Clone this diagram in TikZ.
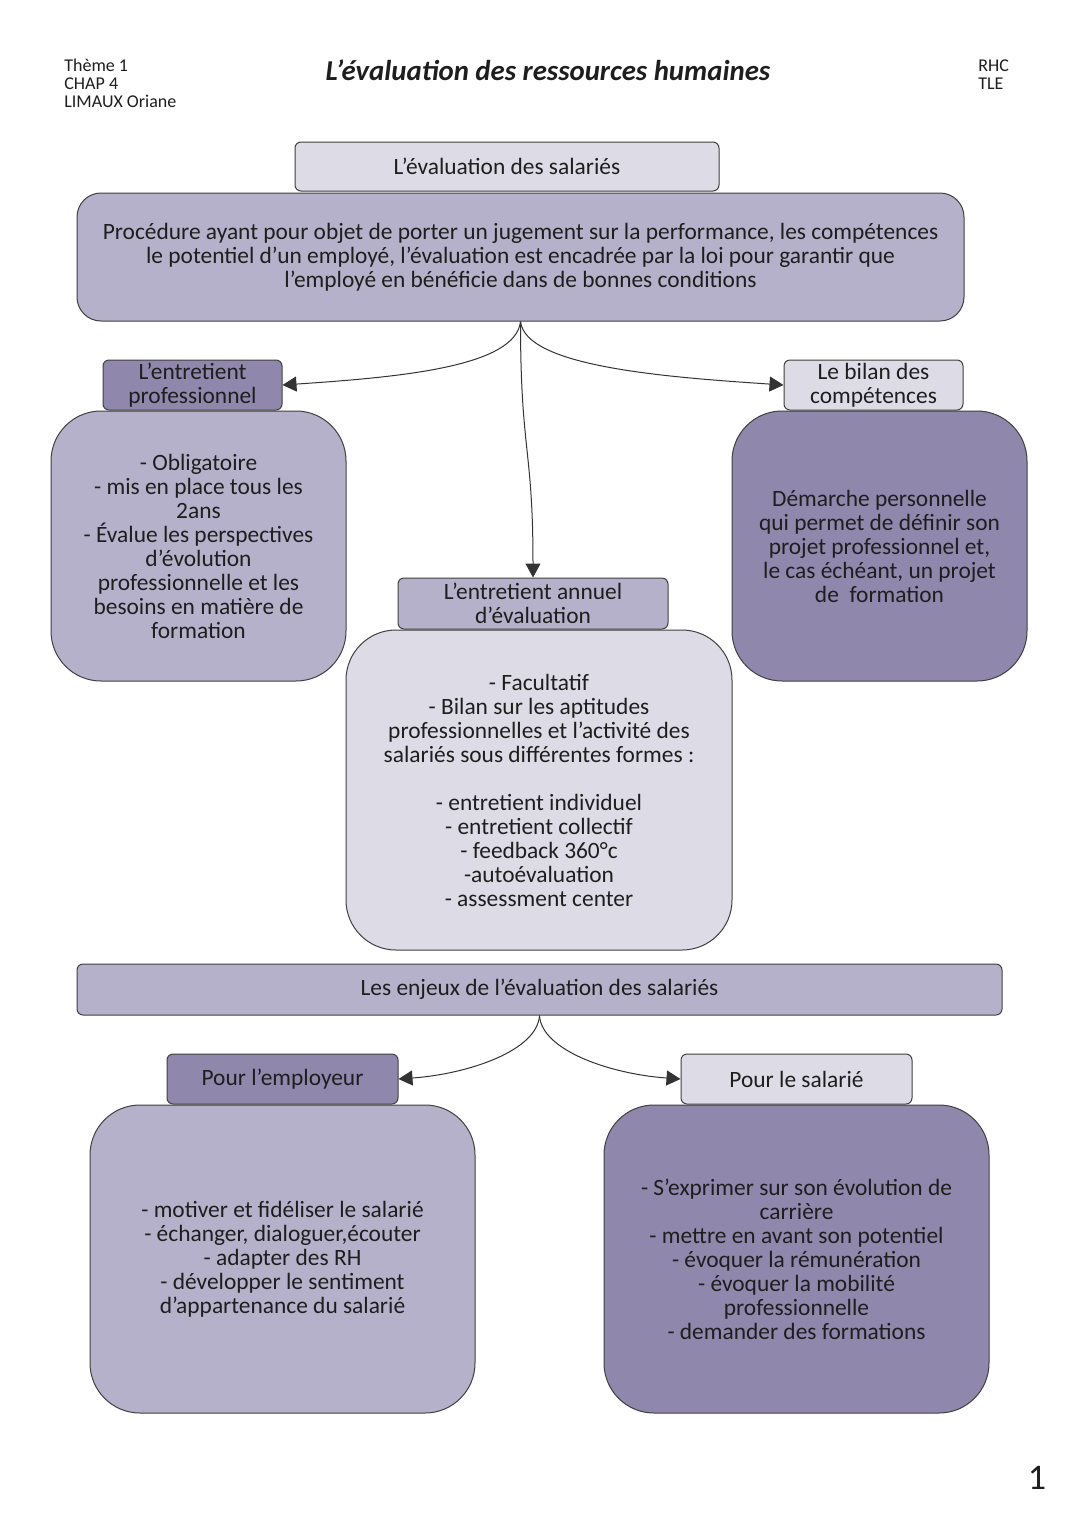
\documentclass[tikz,border=0pt]{standalone}
\usepackage{fontspec}
\setmainfont{Carlito}
\usepackage{xcolor}
\usetikzlibrary{arrows.meta, positioning}
\definecolor{paleviolet}{RGB}{221,219,229}
\definecolor{midviolet}{RGB}{181,177,202}
\definecolor{deepviolet}{RGB}{143,135,172}
\definecolor{ink}{RGB}{30,30,30}

\begin{document}
\begin{tikzpicture}[
    x=0.5pt, y=-0.5pt,
    tab/.style={rectangle, draw=black!75, line width=0.5pt, rounded corners=3pt, align=center, inner sep=0pt, text=ink, font=\fontsize{11.7}{12}\selectfont},
    panel/.style={rectangle, draw=black!75, line width=0.5pt, rounded corners=25pt, align=center, inner sep=0pt, text=ink, font=\fontsize{11.7}{12}\selectfont},
    link/.style={-{Triangle[length=7pt,width=7.5pt]}, line width=0.5pt, draw=black!80},
    head/.style={font=\fontsize{9}{9}\selectfont, align=left, inner sep=0pt, text=ink}
]
    \fill[white] (0,0) rectangle (1080,1527);
    \useasboundingbox (0,0) rectangle (1080,1527);

    % Header
    \node[head, anchor=north west] (theme) at (64,59) {Thème 1\\CHAP 4\\LIMAUX Oriane};
    \node[inner sep=0pt, text=ink, font=\fontsize{14.4}{16}\selectfont\bfseries\itshape] (title) at (548,70) {L’évaluation des ressources humaines};
    \node[head, anchor=north west] (classe) at (978,59) {RHC\\TLE};

    % Top Layer - Definition
    \node[tab, fill=paleviolet, minimum width=212pt, minimum height=24.5pt] (salaries) at (507,166.5) {L’évaluation des salariés};
    \node[panel, fill=midviolet, rounded corners=12pt, minimum width=443.5pt, minimum height=64pt] (descr) at (520.5,257) {Procédure ayant pour objet de porter un jugement sur la performance, les compétences\\le potentiel d’un employé, l’évaluation est encadrée par la loi pour garantir que\\l’employé en bénéficie dans de bonnes conditions};

    % Middle Layer - Entretiens
    \node[tab, fill=deepviolet, minimum width=89.5pt, minimum height=25pt] (pro) at (192.5,385) {L’entretient\\professionnel};
    \node[panel, fill=midviolet, minimum width=147.5pt, minimum height=135pt] (proText) at (198.5,546) {- Obligatoire\\- mis en place tous les\\2ans\\- Évalue les perspectives\\d’évolution\\professionnelle et les\\besoins en matière de\\formation};

    \node[tab, fill=paleviolet, minimum width=89.5pt, minimum height=25pt] (bilan) at (873.5,385) {Le bilan des\\compétences};
    \node[panel, fill=deepviolet, minimum width=147.5pt, minimum height=135pt] (bilanText) at (879.5,546) {Démarche personnelle\\qui permet de définir son\\projet professionnel et,\\le cas échéant, un projet\\de\ \ formation};

    \node[tab, fill=midviolet, minimum width=135pt, minimum height=25.5pt] (annuel) at (533,603.5) {L’entretient annuel\\d’évaluation};
    \node[panel, fill=paleviolet, minimum width=193pt, minimum height=160pt] (annuelText) at (539,790) {- Facultatif\\- Bilan sur les aptitudes\\professionnelles et l’activité des\\salariés sous différentes formes :\\[12pt]- entretient individuel\\- entretient collectif\\- feedback 360°c\\-autoévaluation\\- assessment center};

    % Bottom Layer - Enjeux
    \node[tab, fill=midviolet, minimum width=462.5pt, minimum height=25.5pt] (enjeux) at (539.5,989.5) {Les enjeux de l’évaluation des salariés};

    \node[tab, fill=deepviolet, minimum width=115.5pt, minimum height=25pt] (employeur) at (282.5,1079) {Pour l’employeur};
    \node[panel, fill=midviolet, minimum width=192.5pt, minimum height=154pt] (employeurText) at (282.5,1259) {- motiver et fidéliser le salarié\\- échanger, dialoguer,écouter\\- adapter des RH\\- développer le sentiment\\d’appartenance du salarié};

    \node[tab, fill=paleviolet, minimum width=115.5pt, minimum height=25pt] (salarie) at (796.5,1079) {Pour le salarié};
    \node[panel, fill=deepviolet, minimum width=192.5pt, minimum height=154pt] (salarieText) at (796.5,1259) {- S’exprimer sur son évolution de\\carrière\\- mettre en avant son potentiel\\- évoquer la rémunération\\- évoquer la mobilité\\professionnelle\\- demander des formations};

    \node[inner sep=0pt, text=ink, font=\fontsize{18}{20}\selectfont] (page) at (1037,1478) {1};

    % Arrows
    \draw[link] (descr.south) .. controls +(-5,45) and +(120,-8) .. (pro.east);
    \draw[link] (descr.south) .. controls +(5,45) and +(-120,-8) .. (bilan.west);
    \draw[link] (descr.south) .. controls +(0,130) and +(0,-130) .. (annuel.north);
    \draw[link] (enjeux.south) .. controls +(-2,35) and +(70,-5) .. (employeur.east);
    \draw[link] (enjeux.south) .. controls +(2,35) and +(-70,-5) .. (salarie.west);

\end{tikzpicture}
\end{document}
